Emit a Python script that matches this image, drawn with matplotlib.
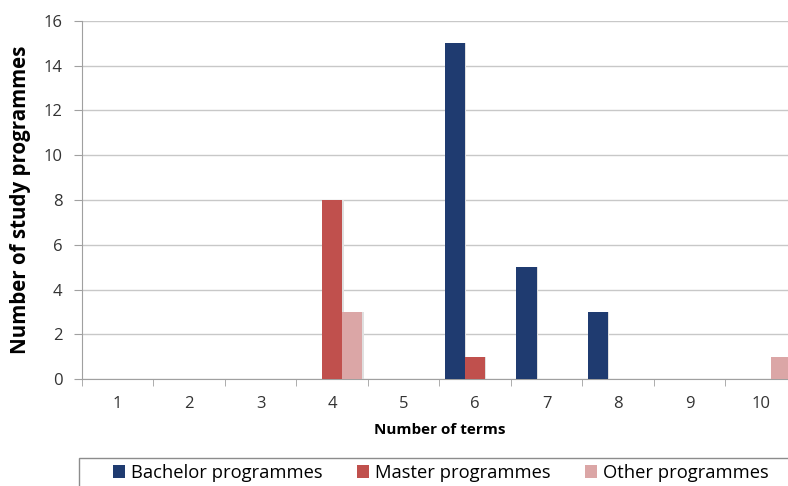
import matplotlib.pyplot as plt
from matplotlib.patches import Rectangle
import numpy as np

plt.rcParams['font.family'] = ['Open Sans', 'DejaVu Sans']

# number of terms per study programme
terms = [1, 2, 3, 4, 5, 6, 7, 8, 9, 10]
bachelor = [0, 0, 0, 0, 0, 15, 5, 3, 0, 0]
master = [0, 0, 0, 8, 0, 1, 0, 0, 0, 0]
other = [0, 0, 0, 3, 0, 0, 0, 0, 0, 1]

series = [("Bachelor programmes", bachelor, "#1F3B70"),
          ("Master programmes", master, "#C0504D"),
          ("Other programmes", other, "#DBA6A6")]

fig = plt.figure(figsize=(7.88, 4.86), dpi=100)
ax = fig.add_axes([0.104, 0.220, 0.907, 0.737])

x = np.arange(len(terms))
w = 0.28
for i, (name, vals, col) in enumerate(series):
    # soft drop shadow behind each bar
    ax.bar(x + (i - 1) * w + 0.02, vals, w, color="#e0e0e0",
           zorder=2, linewidth=0)
    ax.bar(x + (i - 1) * w, vals, w, color=col, label=name, zorder=3,
           linewidth=0)

ax.set_xlim(-0.5, len(terms) - 0.5)
ax.set_ylim(0, 16)
ax.set_yticks(range(0, 17, 2))
ax.set_xticks(x)
ax.set_xticklabels([str(t) for t in terms])
ax.set_xticks(np.arange(-0.5, len(terms), 1), minor=True)
ax.tick_params(axis='x', which='major', length=0, pad=12, labelsize=12,
               colors="#333333")
ax.tick_params(axis='x', which='minor', length=5, color="#a0a0a0")
ax.tick_params(axis='y', length=6, color="#a0a0a0", labelsize=12,
               labelcolor="#333333", pad=8)
ax.grid(axis='y', color="#c8c8c8", linewidth=1, zorder=0)
ax.set_axisbelow(True)
for s in ["top", "right"]:
    ax.spines[s].set_visible(False)
for s in ["left", "bottom"]:
    ax.spines[s].set_color("#a0a0a0")

ax.set_xlabel("Number of terms", fontweight="bold", fontsize=11, labelpad=8)
ax.set_ylabel("Number of study programmes", fontweight="bold", fontsize=14.8,
              labelpad=9)

# legend box running off the bottom right of the figure
fig.add_artist(Rectangle((79 / 788, -0.05), 1.0, 0.05 + 28 / 486,
                         transform=fig.transFigure, facecolor="white",
                         edgecolor="#8c8c8c", linewidth=1))
handles, labels = ax.get_legend_handles_labels()
fig.legend(handles, labels, loc="center left", ncol=3,
           bbox_to_anchor=(113 / 788, 1 - 473 / 486), frameon=False,
           fontsize=13.2, handlelength=0.65, handleheight=0.65,
           handletextpad=0.35, borderaxespad=0, columnspacing=1.85,
           borderpad=0)

fig.savefig("out.png", dpi=100)
